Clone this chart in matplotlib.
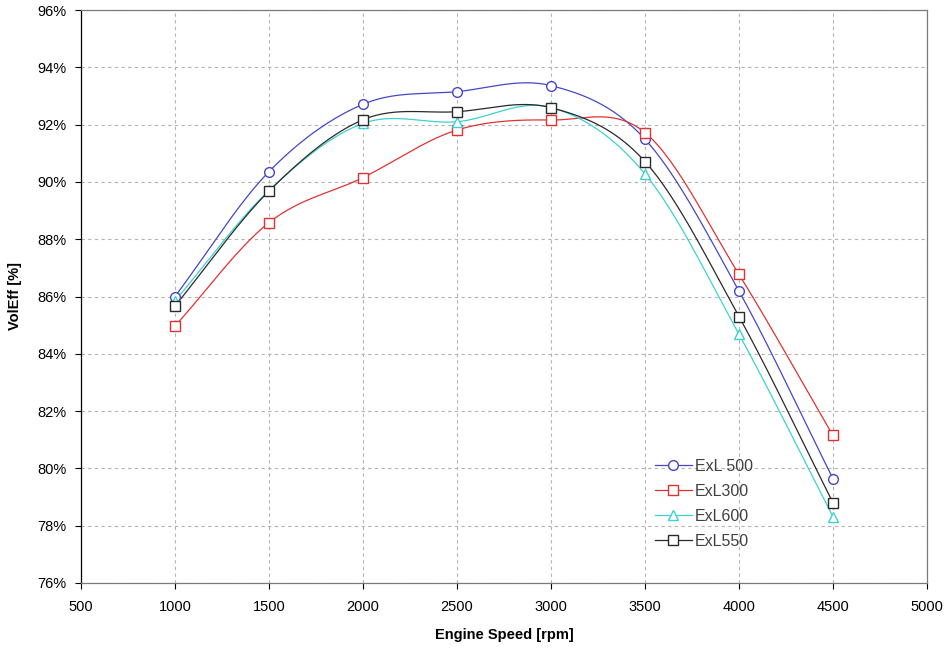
import numpy as np
import matplotlib
matplotlib.use("Agg")
import matplotlib.pyplot as plt
from matplotlib.ticker import FuncFormatter, MultipleLocator

plt.rcParams['font.family'] = ['Liberation Sans', 'DejaVu Sans']

rpm = [1000, 1500, 2000, 2500, 3000, 3500, 4000, 4500]
exl500 = [86.0, 90.36, 92.71, 93.15, 93.36, 91.49, 86.19, 79.64]
exl300 = [84.97, 88.58, 90.15, 91.81, 92.16, 91.72, 86.77, 81.15]
exl600 = [85.85, 89.70, 92.04, 92.10, 92.60, 90.28, 84.68, 78.31]
exl550 = [85.67, 89.68, 92.17, 92.45, 92.59, 90.71, 85.30, 78.80]

series = [
    ("ExL 500", exl500, "#4646c8", "o"),
    ("ExL300", exl300, "#e03232", "s"),
    ("ExL600", exl600, "#3cd2d2", "^"),
    ("ExL550", exl550, "#2a2a2a", "s"),
]


def smooth(x, y, n=30):
    x = np.asarray(x, float)
    y = np.asarray(y, float)
    px = np.concatenate([[2 * x[0] - x[1]], x, [2 * x[-1] - x[-2]]])
    py = np.concatenate([[2 * y[0] - y[1]], y, [2 * y[-1] - y[-2]]])
    xs, ys = [], []
    t = np.linspace(0, 1, n, endpoint=False)
    for i in range(1, len(px) - 2):
        for arr, out in ((px, xs), (py, ys)):
            p0, p1, p2, p3 = arr[i - 1], arr[i], arr[i + 1], arr[i + 2]
            out.extend(0.5 * ((2 * p1) + (-p0 + p2) * t
                              + (2 * p0 - 5 * p1 + 4 * p2 - p3) * t ** 2
                              + (-p0 + 3 * p1 - 3 * p2 + p3) * t ** 3))
    xs.append(x[-1])
    ys.append(y[-1])
    return np.array(xs), np.array(ys)


fig = plt.figure(figsize=(9.46, 6.49), dpi=100)
ax = fig.add_axes([81 / 946, 1 - 583 / 649, 846 / 946, 573 / 649])

for label, vals, color, marker in series:
    sx, sy = smooth(rpm, vals)
    ax.plot(sx, sy, color=color, lw=0.9, zorder=3)
    ms = 7 if marker == 'o' else 7.5
    ax.plot(rpm, vals, linestyle='none', marker=marker, markersize=ms,
            markerfacecolor='white', markeredgecolor=color, markeredgewidth=1.0, zorder=4)
    ax.plot([], [], color=color, lw=0.9, marker=marker, markersize=ms,
            markerfacecolor='white', markeredgecolor=color, label=label)

ax.set_xlim(500, 5000)
ax.set_ylim(76, 96)
ax.xaxis.set_major_locator(MultipleLocator(500))
ax.yaxis.set_major_locator(MultipleLocator(2))
ax.yaxis.set_major_formatter(FuncFormatter(lambda v, p: f"{v:.0f}%"))

ax.grid(True, color='#b4b4b4', linestyle=(0, (3, 3)), linewidth=0.8)
ax.set_axisbelow(True)
for s in ['top', 'right', 'bottom']:
    ax.spines[s].set_color('#7a7a7a')
    ax.spines[s].set_linewidth(0.9)
ax.spines['left'].set_color('black')
ax.spines['left'].set_linewidth(0.9)
ax.tick_params(direction='out', length=4, width=0.8, labelsize=10.5, colors='black')
ax.tick_params(axis='x', pad=8.5)
ax.tick_params(axis='y', pad=6.5)

ax.set_xlabel("Engine Speed [rpm]", fontsize=10.5, fontweight='bold', va='center')
ax.set_ylabel("VolEff [%]", fontsize=10.5, fontweight='bold', va='center')
ax.xaxis.set_label_coords(0.5, (583 - 635) / 573)
ax.yaxis.set_label_coords((15 - 81) / 846, 0.5)

leg = ax.legend(loc='upper left', bbox_to_anchor=((655 - 81) / 846, (583 - 459) / 573),
                frameon=False, borderpad=0, borderaxespad=0,
                fontsize=11.5, handlelength=2.3, handletextpad=0.2, labelspacing=0.62,
                labelcolor='#404040')

fig.savefig("out.png", dpi=100)
